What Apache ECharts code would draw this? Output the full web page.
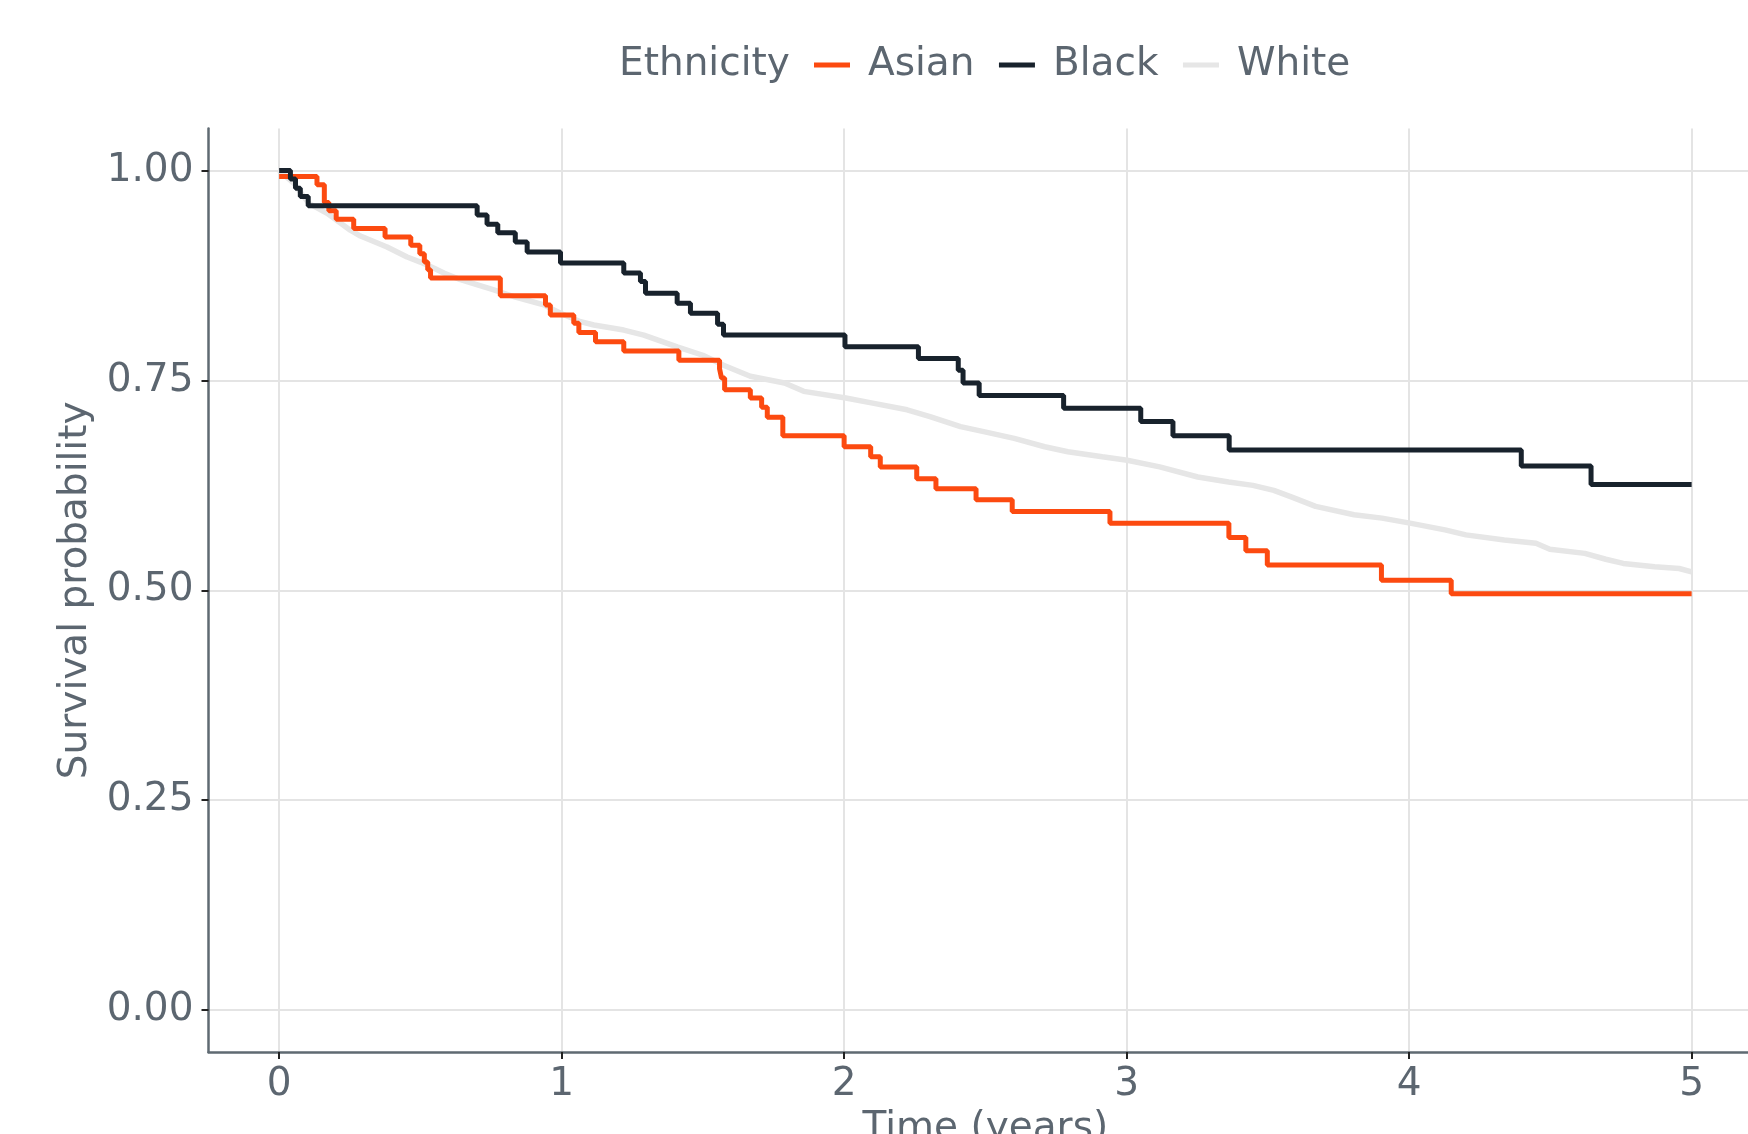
<!DOCTYPE html>
<html><head><meta charset="utf-8">
<script src="https://cdn.jsdelivr.net/npm/echarts@6/dist/echarts.min.js"></script>
<style>html,body{margin:0;padding:0;background:#fff}#c{width:1748px;height:1134px}</style>
</head><body><div id="c"></div><script>
// ---- data ----
const seriesNames = ['Asian', 'Black', 'White'];
const asianTime = [0, 0.134, 0.160, 0.176, 0.202, 0.264, 0.375, 0.466, 0.498, 0.514, 0.526, 0.536, 0.783, 0.943, 0.960, 1.043, 1.061, 1.120, 1.220, 1.415, 1.559, 1.566, 1.577, 1.668, 1.708, 1.728, 1.783, 2.000, 2.094, 2.128, 2.257, 2.325, 2.467, 2.595, 2.941, 3.362, 3.422, 3.498, 3.902, 4.149, 5.0];
const asianSurv = [0.993, 0.983, 0.962, 0.952, 0.942, 0.931, 0.921, 0.911, 0.901, 0.891, 0.882, 0.872, 0.851, 0.840, 0.828, 0.818, 0.807, 0.796, 0.785, 0.774, 0.764, 0.753, 0.739, 0.729, 0.718, 0.706, 0.684, 0.671, 0.659, 0.647, 0.633, 0.621, 0.608, 0.594, 0.580, 0.563, 0.547, 0.530, 0.512, 0.496, 0.496];
const blackTime = [0, 0.040, 0.058, 0.075, 0.103, 0.701, 0.736, 0.774, 0.836, 0.878, 0.996, 1.220, 1.279, 1.297, 1.409, 1.456, 1.552, 1.573, 2.003, 2.263, 2.404, 2.421, 2.478, 2.777, 3.050, 3.164, 3.363, 4.397, 4.644, 5.0];
const blackSurv = [1.0, 0.990, 0.979, 0.969, 0.958, 0.947, 0.936, 0.926, 0.915, 0.903, 0.890, 0.878, 0.868, 0.854, 0.842, 0.830, 0.817, 0.804, 0.790, 0.776, 0.762, 0.747, 0.732, 0.717, 0.701, 0.684, 0.667, 0.648, 0.626, 0.626];
const whiteTime = [0, 0.052, 0.105, 0.170, 0.252, 0.288, 0.382, 0.453, 0.500, 0.547, 0.583, 0.642, 0.760, 0.830, 0.937, 0.996, 1.067, 1.114, 1.220, 1.291, 1.409, 1.500, 1.573, 1.668, 1.789, 1.857, 2.006, 2.101, 2.223, 2.304, 2.412, 2.494, 2.602, 2.710, 2.792, 2.914, 3.002, 3.117, 3.252, 3.361, 3.447, 3.521, 3.585, 3.669, 3.805, 3.904, 4.003, 4.127, 4.201, 4.337, 4.449, 4.498, 4.622, 4.696, 4.758, 4.869, 4.956, 5.0];
const whiteSurv = [1.0, 0.985, 0.961, 0.949, 0.929, 0.922, 0.909, 0.897, 0.891, 0.884, 0.878, 0.870, 0.858, 0.850, 0.840, 0.830, 0.820, 0.816, 0.810, 0.804, 0.790, 0.780, 0.768, 0.755, 0.747, 0.737, 0.729, 0.723, 0.715, 0.707, 0.695, 0.689, 0.681, 0.671, 0.665, 0.659, 0.655, 0.647, 0.635, 0.629, 0.625, 0.619, 0.611, 0.600, 0.590, 0.586, 0.580, 0.572, 0.566, 0.560, 0.556, 0.549, 0.544, 0.537, 0.532, 0.528, 0.526, 0.522];
const xTicks = [0, 1, 2, 3, 4, 5];
const yTicks = [0, 0.25, 0.5, 0.75, 1];
const yTickLabels = ['0.00', '0.25', '0.50', '0.75', '1.00'];

// ---- styling ----
const FONT = 'DejaVu Sans';
const TXT = '#5C6670';
const AXIS = '#5F6A72';
const GRIDC = '#E4E4E4';
const colors = { Asian: '#FC4A10', Black: '#18222C', White: '#E6E6E6' };
const zip = (a, b) => a.map((v, i) => [v, b[i]]);

const chart = echarts.init(document.getElementById('c'), null, { renderer: 'canvas' });
chart.setOption({
  animation: false,
  backgroundColor: '#ffffff',
  title: {
    text: 'Ethnicity', left: 619, top: 45.5, padding: 0,
    textStyle: { fontFamily: FONT, fontSize: 39, fontWeight: 'normal', color: TXT }
  },
  legend: {
    data: seriesNames, left: 814, top: 45.5, padding: 0,
    icon: 'rect', itemWidth: 36, itemHeight: 5, itemGap: 24.5,
    textStyle: { fontFamily: FONT, fontSize: 39, color: TXT, padding: [0, 0, 0, 13] }
  },
  grid: { left: 208.5, top: 128.6, width: 1553.75, height: 923.4, outerBoundsMode: 'none', containLabel: false },
  xAxis: {
    type: 'value', min: -0.25, max: 5.25,
    name: 'Time (years)', nameLocation: 'middle', nameGap: 52,
    nameTextStyle: { fontFamily: FONT, fontSize: 39, color: TXT },
    axisLine: { onZero: false, lineStyle: { color: AXIS, width: 2.5 } },
    axisTick: { show: true, length: 7, customValues: xTicks, lineStyle: { color: '#222', width: 2 } },
    axisLabel: { customValues: xTicks, margin: 13, fontFamily: FONT, fontSize: 39, color: TXT },
    splitLine: { show: true, lineStyle: { color: GRIDC, width: 2 } }
  },
  yAxis: {
    type: 'value', min: -0.05, max: 1.05,
    name: 'Survival probability', nameLocation: 'middle', nameGap: 107,
    nameTextStyle: { fontFamily: FONT, fontSize: 39, color: TXT },
    axisLine: { show: true, onZero: false, lineStyle: { color: AXIS, width: 2.5 } },
    axisTick: { show: true, length: 7, customValues: yTicks, lineStyle: { color: '#222', width: 2 } },
    axisLabel: {
      customValues: yTicks, margin: 15, fontFamily: FONT, fontSize: 39, color: TXT,
      formatter: v => yTickLabels[yTicks.indexOf(v)] ?? v.toFixed(2)
    },
    splitLine: { show: true, lineStyle: { color: GRIDC, width: 2 } }
  },
  series: [
    { name: 'White', type: 'line', data: zip(whiteTime, whiteSurv), showSymbol: false, z: 2,
      color: colors.White, lineStyle: { width: 5.5, color: colors.White } },
    { name: 'Asian', type: 'line', step: 'end', data: zip(asianTime, asianSurv), showSymbol: false, z: 3,
      color: colors.Asian, lineStyle: { width: 5, color: colors.Asian } },
    { name: 'Black', type: 'line', step: 'end', data: zip(blackTime, blackSurv), showSymbol: false, z: 4,
      color: colors.Black, lineStyle: { width: 5, color: colors.Black } }
  ]
});
</script></body></html>
